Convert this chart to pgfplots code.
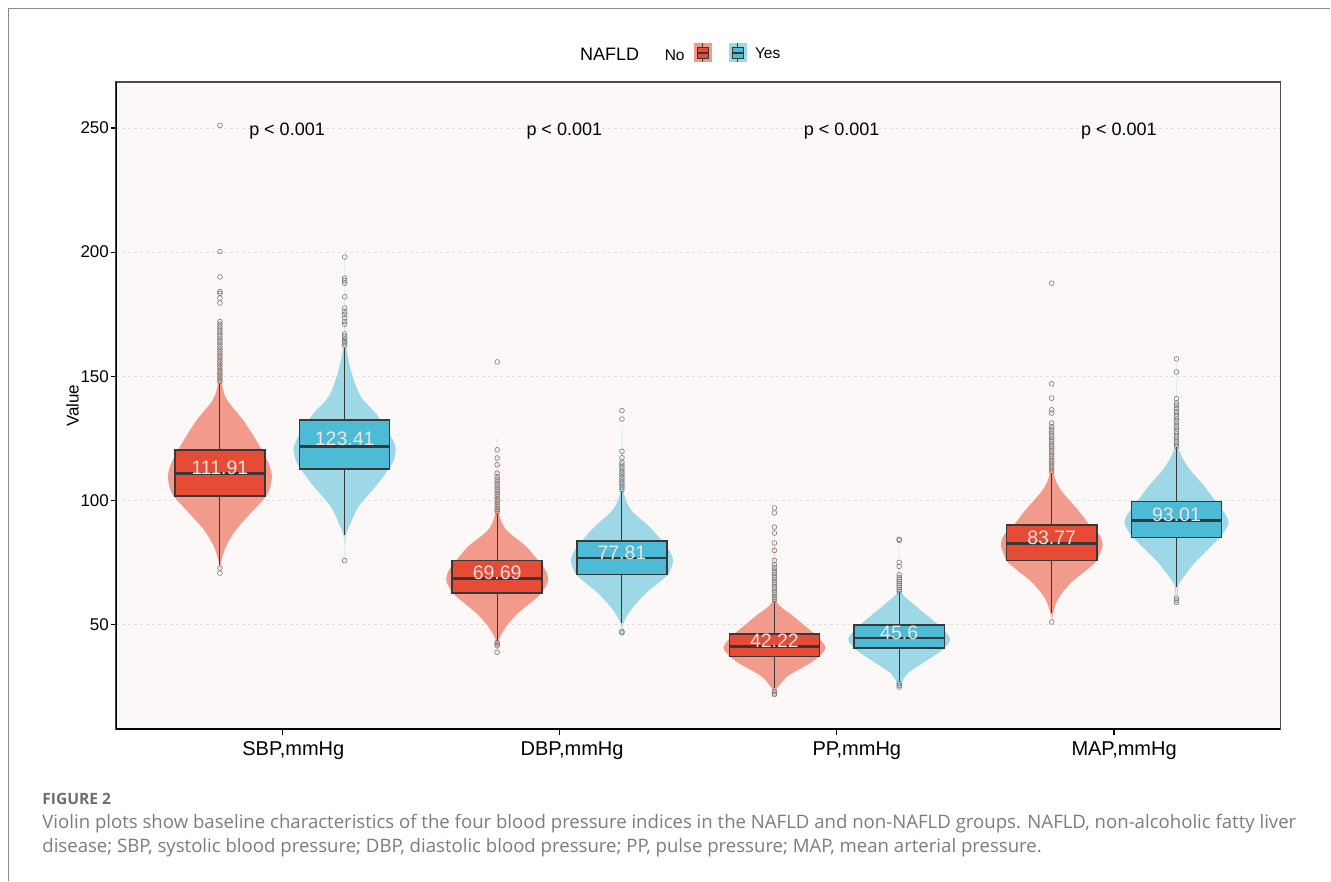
\documentclass[border=0pt]{standalone}
\usepackage{pgfplots}
\pgfplotsset{compat=1.18}
\usepackage{pgfplotstable}
\usepackage{fontspec}
\setmainfont{Liberation Sans}
\newfontfamily\capfont{Open Sans}
\definecolor{panelbg}{HTML}{FCF8F7}
\definecolor{nobox}{HTML}{E64B35}
\definecolor{yesbox}{HTML}{4DBBD5}
\definecolor{noviol}{HTML}{F29A8C}
\definecolor{yesviol}{HTML}{9ED8E6}
\definecolor{boxline}{HTML}{383838}
\definecolor{lblcol}{HTML}{EFE4E2}
\definecolor{outcol}{HTML}{7A7A7A}
\definecolor{capgray}{HTML}{7C7C7C}
\definecolor{figgray}{HTML}{6E6E6E}

% violin half-widths (w, in px of the reference, 277.4 px = 1 x unit) against values y
\pgfplotstableread{
y w
71 0.3
75 1
81.5 6
88.2 16
95 31
101.6 46
105.5 50.5
109.7 52
113 50.5
116.4 47
124.4 36
132.5 23
140.6 7
147.3 2
160 0.6
175 0.3
}\vSBPno
\pgfplotstableread{
y w
75.8 0.3
85.6 1
91.0 6
97.6 14
105.7 31
113.8 46
117.5 50
121.1 51
124.5 48
128.5 42
135.2 31
141.9 16
151.3 7
162 1.5
175 0.5
198 0.3
}\vSBPyes
\pgfplotstableread{
y w
39 0.3
43.9 1.5
49.3 9
54.7 21
61.4 41
65 48
68.1 51
71.5 49
74.8 43
81.5 29
88.2 9
95 2
110 0.5
125 0.3
}\vDBPno
\pgfplotstableread{
y w
47 0.3
50.7 1.5
56.0 9
62.7 24
69.4 44
73 49.5
76.2 51
79.5 48
82.9 42
89.6 27
96.3 9
103 2
115 0.5
130 0.3
}\vDBPyes
\pgfplotstableread{
y w
22.5 0.3
23.8 1.5
29.2 13
34.6 36
37.8 46
40.6 51
43.5 47
46.7 39
53.4 19
59.4 2
70 0.5
90 0.3
}\vPPno
\pgfplotstableread{
y w
25 0.3
25.9 1.5
30.6 9
37.3 34
40.5 45
44.0 51
47.3 46
50.7 37
57.4 17
63.4 1.5
72 0.5
84 0.3
}\vPPyes
\pgfplotstableread{
y w
51 0.3
54.7 1.5
60.1 6
66.8 19
74.8 43
78.5 48
82.2 51
86 48
89.6 39
96.3 26
104.3 9
111 2
125 0.5
140 0.3
}\vMAPno
\pgfplotstableread{
y w
59 0.3
64.1 1.5
66.8 3
74.8 18
82.9 38
87 47
91.0 52
94.5 49
97.6 43
105.7 28
113.8 11
121.8 1.5
135 0.5
155 0.3
}\vMAPyes

% outliers
\pgfplotstableread{
y
70.8
72.8
148
149
150
151
152
153
154
155
156
157
158
159
160
161
162
163
164
165
166
167
168
169
170
171
172
179.5
181.5
183.4
184.1
190
200.2
251
}\oSBPno
\pgfplotstableread{
y
75.8
162.5
163.5
164
165
166
167
171
172
173.5
175
176
177.5
182
187.5
188.5
189.5
198
}\oSBPyes
\pgfplotstableread{
y
38.9
41.5
42.2
42.9
95.6
96.5
97.5
98.5
99.5
100.5
101.5
102.5
103.5
104.5
105.5
106.5
107.5
108.5
109.5
111
114.4
117.1
120.4
155.8
}\oDBPno
\pgfplotstableread{
y
46.7
47.3
104.3
105.3
106.3
107.3
108.3
109.3
110.3
111.3
112.3
113.3
114.3
115.3
117.2
119.8
132.8
136.2
}\oDBPyes
\pgfplotstableread{
y
21.9
22.5
23.2
60.1
61
62
63
64
65
66
67
68
69
70
71
72
73
74.1
75.9
79.9
82.9
86.9
89.3
95
97
}\oPPno
\pgfplotstableread{
y
24.9
25.6
26.3
63.4
64.2
65
65.8
66.6
67.4
68.2
69
70.1
73.5
75.1
84
84.4
}\oPPyes
\pgfplotstableread{
y
51.1
111.7
112.7
113.7
114.7
115.7
116.7
117.7
118.7
119.7
120.7
121.7
122.7
123.7
124.7
125.7
126.7
127.7
128.7
129.7
131.2
135.2
136.5
141.2
147
187.5
}\oMAPno
\pgfplotstableread{
y
59
59.8
60.7
121.8
122.8
123.8
124.8
125.8
126.8
127.8
128.8
129.8
130.8
131.8
132.8
133.8
134.8
135.8
137
138.2
139.2
141
151.7
157
}\oMAPyes

% each half of a violin is filled; the fill closes it along the centre line
\newcommand{\violin}[3]{%
  \addplot[fill=#3, draw=none, smooth, forget plot] table[x expr={#2+\thisrow{w}/277.4}, y=y] {#1};
  \addplot[fill=#3, draw=none, smooth, forget plot] table[x expr={#2-\thisrow{w}/277.4}, y=y] {#1};
}
% box: #1 centre, #2 lower whisker, #3 Q1, #4 median, #5 Q3, #6 upper whisker, #7 fill, #8 outlier table
\newcommand{\bx}[8]{%
  \pgfmathsetmacro\xa{#1-0.1625}\pgfmathsetmacro\xb{#1+0.1625}%
  \addplot[draw=boxline, line width=0.55pt, forget plot] coordinates {(#1,#2) (#1,#6)};
  \addplot[fill=#7, draw=boxline, line width=0.75pt, line join=miter, forget plot] coordinates {(\xa,#3) (\xb,#3) (\xb,#5) (\xa,#5) (\xa,#3) (\xb,#3)};
  \addplot[draw=boxline, line width=1.3pt, forget plot] coordinates {(\xa,#4) (\xb,#4)};
  \addplot[only marks, mark=o, mark size=1.2pt, mark options={draw=outcol, fill=none, line width=0.3pt}, forget plot] table[x expr=#1, y=y] {#8};
}

\begin{document}
\begin{tikzpicture}
\path (0pt,0pt) rectangle (665.5pt,440.5pt);
\draw[color=black!45, line width=0.6pt] (4.25pt,0pt) -- (4.25pt,436.25pt) -- (665.5pt,436.25pt);
\begin{axis}[at={(58pt,75.5pt)}, anchor=south west,
  width=582.5pt, height=324pt, scale only axis,
  xmin=0.4, xmax=4.6, ymin=7.75, ymax=268.5,
  axis background/.style={fill=panelbg},
  axis line style={draw=black!70, line width=0.65pt},
  xtick={1,2,3,4},
  xticklabels={{\hspace{11pt}SBP,mmHg},{\hspace{12.5pt}DBP,mmHg},{\hspace{20pt}PP,mmHg},{\hspace{10pt}MAP,mmHg}},
  ytick={50,100,150,200,250},
  xtick pos=bottom, ytick pos=left,
  tick align=outside, major tick length=2.5pt,
  tick style={black, line width=0.6pt},
  ymajorgrids, grid style={dash pattern=on 1.5pt off 1.5pt, draw=black!12, line width=0.3pt},
  ylabel={Value}, ylabel shift=-6pt,
  ylabel style={font=\fontsize{8.5}{10}\selectfont},
  yticklabel style={font=\fontsize{8.5}{10}\selectfont, xshift=2.5pt},
  xticklabel style={font=\fontsize{10}{12}\selectfont},
  /pgf/number format/assume math mode=true,
]
\violin{\vSBPno}{0.775}{noviol}
\violin{\vSBPyes}{1.225}{yesviol}
\violin{\vDBPno}{1.775}{noviol}
\violin{\vDBPyes}{2.225}{yesviol}
\violin{\vPPno}{2.775}{noviol}
\violin{\vPPyes}{3.225}{yesviol}
\violin{\vMAPno}{3.775}{noviol}
\violin{\vMAPyes}{4.225}{yesviol}

\bx{0.775}{74}{101.8}{110.8}{120.4}{147.5}{nobox}{\oSBPno}
\bx{1.225}{86}{112.7}{121.8}{132.4}{161.5}{yesbox}{\oSBPyes}
\bx{1.775}{43.5}{62.8}{68.6}{75.9}{95}{nobox}{\oDBPno}
\bx{2.225}{50.7}{70.3}{76.8}{83.8}{104}{yesbox}{\oDBPyes}
\bx{2.775}{24.5}{37.3}{41.3}{46.3}{59.5}{nobox}{\oPPno}
\bx{3.225}{27.2}{40.6}{44.6}{49.9}{63}{yesbox}{\oPPyes}
\bx{3.775}{54.7}{75.8}{82.6}{90.2}{111}{nobox}{\oMAPno}
\bx{4.225}{65}{85.1}{91.9}{99.6}{121.5}{yesbox}{\oMAPyes}

\node[anchor=base, text=lblcol, font=\fontsize{9.75}{11}\selectfont] at (axis cs:0.775,110.51) {111.91};
\node[anchor=base, text=lblcol, font=\fontsize{9.75}{11}\selectfont] at (axis cs:1.775,68.29) {69.69};
\node[anchor=base, text=lblcol, font=\fontsize{9.75}{11}\selectfont] at (axis cs:2.775,40.82) {42.22};
\node[anchor=base, text=lblcol, font=\fontsize{9.75}{11}\selectfont] at (axis cs:3.775,82.37) {83.77};
\node[anchor=base, text=lblcol, font=\fontsize{9.75}{11}\selectfont] at (axis cs:1.225,122.01) {123.41};
\node[anchor=base, text=lblcol, font=\fontsize{9.75}{11}\selectfont] at (axis cs:2.225,76.41) {77.81};
\node[anchor=base, text=lblcol, font=\fontsize{9.75}{11}\selectfont] at (axis cs:3.225,44.2) {45.6};
\node[anchor=base, text=lblcol, font=\fontsize{9.75}{11}\selectfont] at (axis cs:4.225,91.61) {93.01};
\node[anchor=base, font=\fontsize{9}{11}\selectfont] at (axis cs:1.017,246.8) {p < 0.001};
\node[anchor=base, font=\fontsize{9}{11}\selectfont] at (axis cs:2.017,246.8) {p < 0.001};
\node[anchor=base, font=\fontsize{9}{11}\selectfont] at (axis cs:3.017,246.8) {p < 0.001};
\node[anchor=base, font=\fontsize{9}{11}\selectfont] at (axis cs:4.017,246.8) {p < 0.001};
\draw[black, line width=1.3pt] (rel axis cs:0,1) -- (rel axis cs:0,0) -- (rel axis cs:1,0);
\end{axis}

% legend
\node[anchor=base, font=\fontsize{9}{11}\selectfont] at (305pt,410pt) {NAFLD};
\node[anchor=base, font=\fontsize{7.75}{9}\selectfont] at (337.5pt,410pt) {No};
\node[anchor=base, font=\fontsize{7.75}{9}\selectfont] at (384pt,411pt) {Yes};
\fill[noviol] (347pt,409.35pt) rectangle (356pt,418.85pt);
\draw[boxline, line width=0.5pt] (351.5pt,409.35pt) -- (351.5pt,418.85pt);
\filldraw[fill=nobox, draw=boxline, line width=0.5pt] (348.75pt,411.25pt) rectangle (354.25pt,416.75pt);
\draw[boxline, line width=0.65pt] (348.75pt,414pt) -- (354.25pt,414pt);
\fill[yesviol] (364.5pt,409.35pt) rectangle (373.5pt,418.85pt);
\draw[boxline, line width=0.5pt] (369pt,409.35pt) -- (369pt,418.85pt);
\filldraw[fill=yesbox, draw=boxline, line width=0.5pt] (366.25pt,411.25pt) rectangle (371.75pt,416.75pt);
\draw[boxline, line width=0.65pt] (366.25pt,414pt) -- (371.75pt,414pt);

% caption
\node[anchor=base west, text=figgray, font=\capfont\fontsize{7.8}{9}\selectfont\bfseries, inner sep=0pt] at (21pt,38pt) {FIGURE 2};
\node[anchor=base west, text=capgray, font=\capfont\fontsize{9.3}{11}\selectfont, inner sep=0pt] at (21pt,26pt) {Violin plots show baseline characteristics of the four blood pressure indices in the NAFLD and non-NAFLD groups. NAFLD, non-alcoholic fatty liver};
\node[anchor=base west, text=capgray, font=\capfont\fontsize{9.3}{11}\selectfont, inner sep=0pt] at (21pt,14pt) {disease; SBP, systolic blood pressure; DBP, diastolic blood pressure; PP, pulse pressure; MAP, mean arterial pressure.};
\end{tikzpicture}
\end{document}
